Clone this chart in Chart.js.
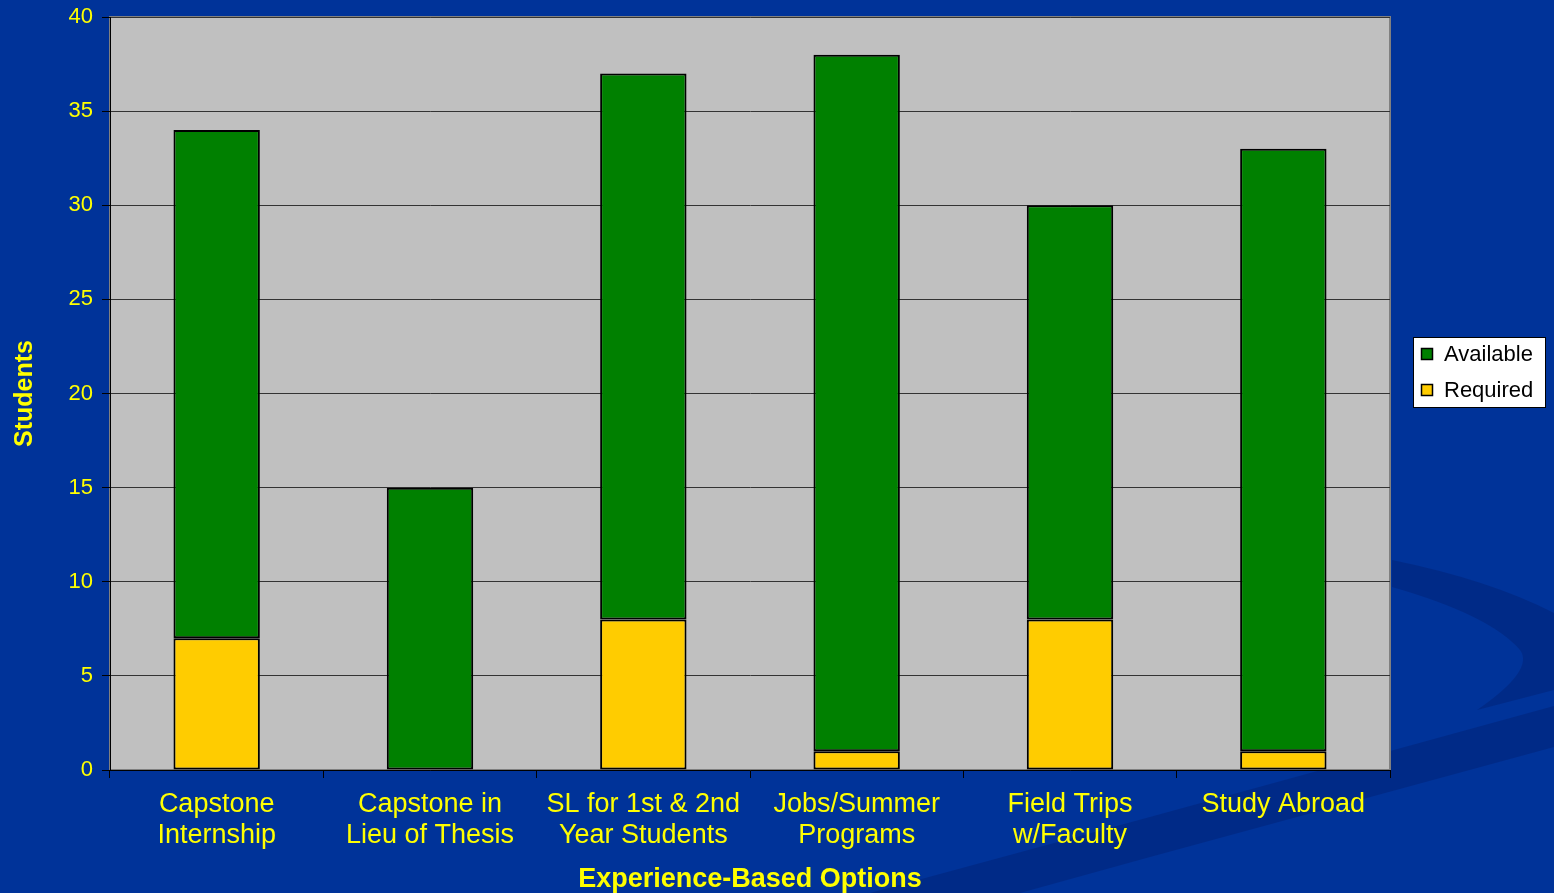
<!DOCTYPE html>
<html>
<head>
<meta charset="utf-8">
<script src="https://cdn.jsdelivr.net/npm/chart.js@4.4.1/dist/chart.umd.min.js"></script>
<style>
	html, body { margin: 0; padding: 0; background: #003399; overflow: hidden; }
	#wrap { position: relative; width: 1554px; height: 893px; }
</style>
</head>
<body>
<div id="wrap"><canvas id="chart"></canvas></div>
<script>
// data
const categories	= [
	[ 'Capstone', 'Internship' ],
	[ 'Capstone in', 'Lieu of Thesis' ],
	[ 'SL for 1st & 2nd', 'Year Students' ],
	[ 'Jobs/Summer', 'Programs' ],
	[ 'Field Trips', 'w/Faculty' ],
	[ 'Study Abroad' ]
];
const required	= [ 7, 0, 8, 1, 8, 1 ];
const available	= [ 27, 15, 29, 37, 22, 32 ];
const yTicks	= { min: 0, max: 40, step: 5 };

const BG		= '#003399';
const YELLOW	= '#FFFF00';
const FONT		= "'Liberation Sans', Arial, sans-serif";

// slide background with the darker swoosh shapes
const slideBg = {
	id: 'slideBg',
	beforeDraw( chart ) {
		const c = chart.ctx;
		c.save();
		c.fillStyle = BG;
		c.fillRect( 0, 0, chart.width, chart.height );

		c.fillStyle = 'rgba(0,20,90,0.28)';
		c.beginPath();
		c.moveTo( 1554, 706 );
		c.lineTo( 1150, 817 );
		c.lineTo( 870, 893 );
		c.lineTo( 1020, 893 );
		c.lineTo( 1150, 857 );
		c.lineTo( 1554, 747 );
		c.closePath();
		c.fill();

		c.beginPath();
		c.moveTo( 1392, 560 );
		c.quadraticCurveTo( 1490, 580, 1554, 613 );
		c.lineTo( 1554, 690 );
		c.lineTo( 1477, 710 );
		c.quadraticCurveTo( 1535, 670, 1520, 650 );
		c.quadraticCurveTo( 1490, 615, 1392, 587 );
		c.closePath();
		c.fill();
		c.restore();
	}
};

// grey plot area + frame
const plotArea = {
	id: 'plotArea',
	beforeDraw( chart ) {
		const a = chart.chartArea;
		const c = chart.ctx;
		c.save();
		c.fillStyle = '#C0C0C0';
		c.fillRect( a.left, a.top, a.right - a.left, a.bottom - a.top );
		c.strokeStyle = '#808080';
		c.lineWidth = 2;
		c.strokeRect( a.left, a.top, a.right - a.left, a.bottom - a.top );
		c.restore();
	}
};

// legend in a white box on the right
const boxLegend = {
	id: 'boxLegend',
	afterDraw( chart ) {
		const c = chart.ctx;
		const x = 1413, y = 337, w = 132, h = 70;
		c.save();
		c.fillStyle = '#FFFFFF';
		c.fillRect( x, y, w, h );
		c.strokeStyle = '#000000';
		c.lineWidth = 1;
		c.strokeRect( x + 0.5, y + 0.5, w, h );

		const items = [ chart.data.datasets[ 1 ], chart.data.datasets[ 0 ] ];
		c.font = '22px ' + FONT;
		c.textBaseline = 'middle';
		items.forEach( ( ds, i ) => {
			const cy = y + 17 + i * 36;
			c.fillStyle = ds.backgroundColor;
			c.fillRect( x + 8, cy - 6, 12, 12 );
			c.strokeStyle = '#000';
			c.lineWidth = 1.5;
			c.strokeRect( x + 8.5, cy - 5.5, 11, 11 );
			c.fillStyle = '#000';
			c.fillText( ds.label, x + 31, cy + 1 );
		} );
		c.restore();
	}
};

new Chart( document.getElementById( 'chart' ), {
	type: 'bar',
	data: {
		labels: categories,
		datasets: [
			{ label: 'Required', data: required, backgroundColor: '#FFCC00', borderColor: '#000', borderWidth: 2, borderSkipped: false },
			{ label: 'Available', data: available, backgroundColor: '#008000', borderColor: '#000', borderWidth: 2, borderSkipped: false }
		]
	},
	options: {
		responsive: true,
		maintainAspectRatio: false,
		animation: false,
		layout: { padding: { top: 17, right: 164, left: 0, bottom: 0 } },
		datasets: { bar: { barPercentage: 0.405, categoryPercentage: 1 } },
		plugins: {
			legend: { display: false },
			tooltip: { enabled: false }
		},
		scales: {
			x: {
				stacked: true,
				afterFit( s ) { s.height = 123; s.paddingLeft = 0; s.paddingRight = 0; },
				border: { color: '#000', width: 1 },
				grid: { drawOnChartArea: false, drawTicks: true, tickLength: 8, color: '#000', offset: true },
				ticks: { color: YELLOW, font: { family: FONT, size: 27, lineHeight: 1.15 }, padding: 11, maxRotation: 0 },
				title: {
					display: true, text: 'Experience-Based Options', color: YELLOW,
					font: { family: FONT, size: 27, weight: 'bold', lineHeight: 1 },
					padding: { top: 0, bottom: 0 }
				}
			},
			y: {
				stacked: true,
				min: yTicks.min,
				max: yTicks.max,
				afterFit( s ) { s.width = 110; s.paddingTop = 0; s.paddingBottom = 0; },
				border: { color: '#000', width: 1 },
				grid: { color: '#333333', lineWidth: 1, tickLength: 8, tickColor: '#000' },
				ticks: { stepSize: yTicks.step, color: YELLOW, font: { family: FONT, size: 22 }, padding: 9 },
				title: {
					display: true, text: 'Students', color: YELLOW,
					font: { family: FONT, size: 25, weight: 'bold' },
					padding: { top: 10, bottom: 0 }
				}
			}
		}
	},
	plugins: [ slideBg, plotArea, boxLegend ]
} );
</script>
</body>
</html>
